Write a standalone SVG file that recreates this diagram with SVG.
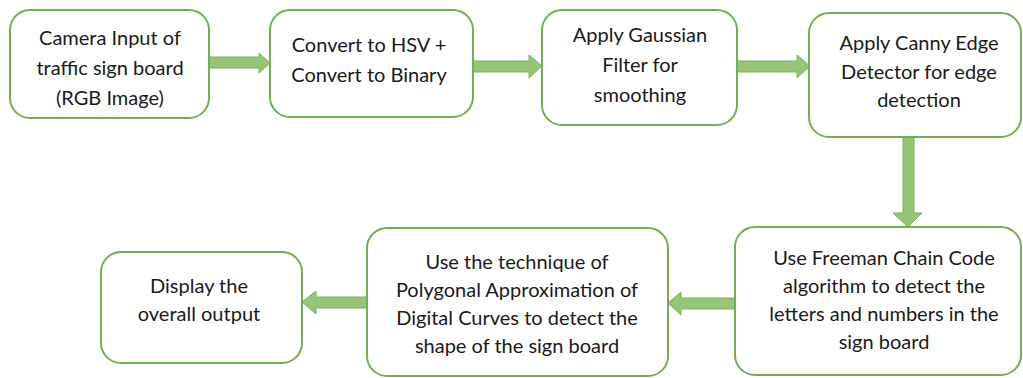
<svg xmlns="http://www.w3.org/2000/svg" width="1023" height="378" viewBox="0 0 1023 378">
<style>
.box{fill:#ffffff;stroke:#74AE50;stroke-width:2}
.arr{fill:#96C57A;stroke:#7BB35A;stroke-width:1}
text{font-family:Lato,"Liberation Sans",Arial,sans-serif;font-size:20px;fill:#1a1a1a;text-anchor:middle}
</style>
<rect width="1023" height="378" fill="#ffffff"/>
<g id="connectors">
<polygon class="arr" points="209,57 259,57 259,53 270,63 259,73 259,68 209,68"/>
<polygon class="arr" points="473,61 529,61 529,55 542,66 529,78 529,72 473,72"/>
<polygon class="arr" points="737,61 797,61 797,55 810,66 797,78 797,72 737,72"/>
<polygon class="arr" points="903,137 914,137 914,213 922,213 908,227 893,213 903,213"/>
<polygon class="arr" points="735,298 681,298 681,292 668,303 681,315 681,309 735,309"/>
<polygon class="arr" points="367,297 316,297 316,291 302,302 316,314 316,308 367,308"/>
</g>
<g id="n1"><rect class="box" x="10" y="10" width="199" height="108" rx="20"/>
<text x="110" y="45">Camera Input of</text><text x="110" y="75">traffic sign board</text><text x="110" y="105">(RGB Image)</text></g>
<g id="n2"><rect class="box" x="270" y="10" width="203" height="107" rx="20"/>
<text x="369" y="52">Convert to HSV +</text><text x="369" y="82">Convert to Binary</text></g>
<g id="n3"><rect class="box" x="542" y="10" width="195" height="115" rx="20"/>
<text x="640" y="42">Apply Gaussian</text><text x="640" y="72">Filter for</text><text x="640" y="102">smoothing</text></g>
<g id="n4"><rect class="box" x="809" y="13" width="212" height="124" rx="20"/>
<text x="919" y="50">Apply Canny Edge</text><text x="919" y="79">Detector for edge</text><text x="919" y="107">detection</text></g>
<g id="n5"><rect class="box" x="735" y="227" width="286" height="148" rx="20"/>
<text x="884" y="265">Use Freeman Chain Code</text><text x="884" y="293">algorithm to detect the</text><text x="884" y="321">letters and numbers in the</text><text x="884" y="349">sign board</text></g>
<g id="n6"><rect class="box" x="367" y="228" width="301" height="148" rx="20"/>
<text x="517" y="269">Use the technique of</text><text x="517" y="297">Polygonal Approximation of</text><text x="517" y="325">Digital Curves to detect the</text><text x="517" y="353">shape of the sign board</text></g>
<g id="n7"><rect class="box" x="101" y="252" width="201" height="111" rx="20"/>
<text x="199" y="293">Display the</text><text x="199" y="321">overall output</text></g>
</svg>
